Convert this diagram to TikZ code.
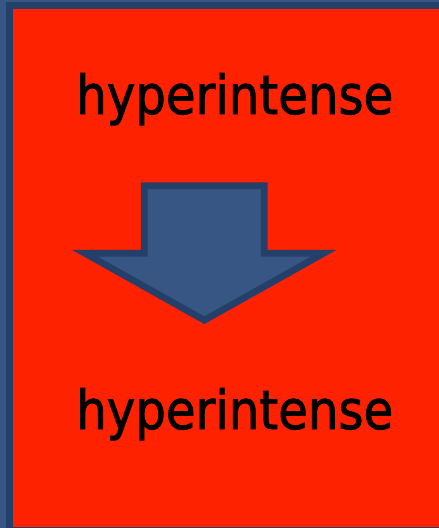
\documentclass[tikz,border=0pt]{standalone}
\usepackage{fontspec}
\setmainfont{DejaVu Sans}
\newfontfamily\labelfont[FakeBold=1.6]{DejaVu Sans}
\definecolor{bgblue}{RGB}{55,86,131}
\definecolor{darkblue}{RGB}{36,64,106}
\definecolor{bgred}{RGB}{255,34,0}
\tikzset{
  label text/.style={anchor=base west, inner sep=0pt, text=black, font=\labelfont},
  arrowshape/.style={fill=bgblue, draw=darkblue, line width=6.7pt, line join=miter}
}
\begin{document}
\begin{tikzpicture}[x=1pt, y=-1pt]
\useasboundingbox (0,0) rectangle (439,528);
\clip (0,0) rectangle (439,528);
\fill[bgblue] (0,0) rectangle (439,528);
\draw[fill=bgred, draw=darkblue, line width=7pt] (9.5,5.5) rectangle (460,530.5);
\node[label text] (t1) at (76,114) {\resizebox{317pt}{41pt}{hyperintense}};
\node[label text] (t2) at (76,429) {\resizebox{317pt}{41pt}{hyperintense}};
\draw[arrowshape] (144.3,185.7) -- (264.3,185.7) -- (264.3,253.3) -- (323.6,253.3)
  -- (204.3,320.2) -- (85,253.3) -- (144.3,253.3) -- cycle;
\end{tikzpicture}
\end{document}
